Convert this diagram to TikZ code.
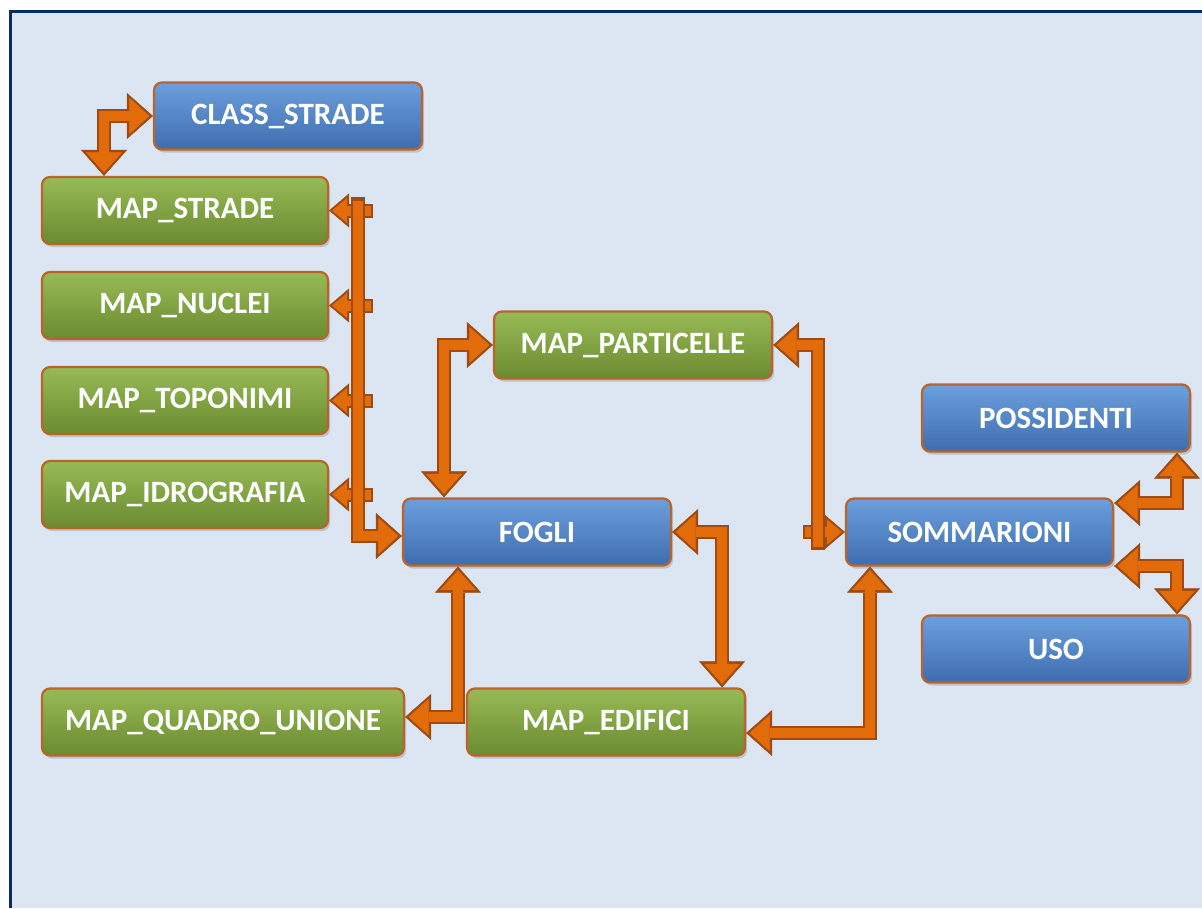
\documentclass[tikz,border=0pt]{standalone}
\usepackage{fontspec}
\setmainfont{Carlito}
\usetikzlibrary{arrows.meta,shadows,calc}
\definecolor{bgc}{HTML}{DCE6F2}
\definecolor{framec}{HTML}{0B2A6B}
\definecolor{edgec}{HTML}{B8642A}
\definecolor{blueT}{HTML}{6C9FDD}
\definecolor{blueB}{HTML}{3E6DAE}
\definecolor{greenT}{HTML}{98BA55}
\definecolor{greenB}{HTML}{6B8B30}
\definecolor{arrF}{HTML}{E36C0A}
\definecolor{arrO}{HTML}{9E4A12}
\tikzset{
  box/.style={rounded corners=8pt, draw=edgec, line width=2.2pt, minimum height=67pt,
    inner sep=0pt, text=white, font=\fontsize{31}{36}\selectfont\bfseries,
    drop shadow={shadow xshift=2pt, shadow yshift=-3pt, opacity=0.35}},
  bbox/.style={box, top color=blueT, bottom color=blueB},
  gbox/.style={box, top color=greenT, bottom color=greenB},
  aout/.style={draw=arrO, line width=14pt, line join=miter, line cap=butt,
    >={Triangle[width=46pt,length=26pt,line width=0.4pt]}},
  ain/.style={draw=arrF, line width=10pt, line join=miter, line cap=butt,
    shorten >=3.5pt, shorten <=3.5pt,
    >={Triangle[width=36pt,length=20pt,line width=0.4pt]}},
  sout/.style={aout, >={Triangle[width=34pt,length=20pt,line width=0.4pt]}},
  sin/.style={ain, shorten >=3pt, shorten <=2pt, >={Triangle[width=25pt,length=15pt,line width=0.4pt]}},
}
\newcommand\barrow[2][]{\draw[aout,#1] #2; \draw[ain,#1] #2;}
\newcommand\sarrow[2][]{\draw[sout,#1] #2; \draw[sin,#1] #2;}
\begin{document}
\begin{tikzpicture}[x=1pt,y=-1pt]
\useasboundingbox (0,0) rectangle (1202,908);
\fill[white] (0,0) rectangle (1202,908);
\fill[bgc] (10,11) rectangle (1202,908);
\draw[framec, line width=3pt] (10.5,908) -- (10.5,11.5) -- (1202,11.5);

\node[bbox, minimum width=268pt] (cls) at (288,116) {CLASS\_STRADE};
\node[gbox, minimum width=286pt] (ms) at (185,210.5) {MAP\_STRADE};
\node[gbox, minimum width=286pt] (mn) at (185,305.5) {MAP\_NUCLEI};
\node[gbox, minimum width=286pt] (mt) at (185,400.5) {MAP\_TOPONIMI};
\node[gbox, minimum width=286pt] (mi) at (185,494.5) {MAP\_IDROGRAFIA};
\node[gbox, minimum width=278pt] (mp) at (633,345) {MAP\_PARTICELLE};
\node[bbox, minimum width=268pt] (fogli) at (537,532) {FOGLI};
\node[bbox, minimum width=267pt] (somm) at (979.5,532) {SOMMARIONI};
\node[bbox, minimum width=268pt] (poss) at (1056,418) {POSSIDENTI};
\node[bbox, minimum width=268pt] (uso) at (1056,649) {USO};
\node[gbox, minimum width=362pt] (mqu) at (223,722) {MAP\_QUADRO\_UNIONE};
\node[gbox, minimum width=278pt] (med) at (606,722) {MAP\_EDIFICI};

\coordinate (bustop) at (358,197);
\coordinate (c4) at (818,550);
\coordinate (c4b) at (803,532);

% CLASS_STRADE <-> MAP_STRADE
\barrow[<->]{(cls.west) -| ($(ms.north)+(-81,0)$)}
% bus branches
\sarrow[->]{($(ms.east)+(44,0)$) -- (ms.east)}
\sarrow[->]{($(mn.east)+(44,0)$) -- (mn.east)}
\sarrow[->]{($(mt.east)+(44,0)$) -- (mt.east)}
\sarrow[->]{($(mi.east)+(44,0)$) -- (mi.east)}
% bus
\barrow[->]{(bustop) |- ($(fogli.west)+(0,4)$)}
% FOGLI <-> MAP_PARTICELLE
\barrow[<->]{(mp.west) -| ($(fogli.north)+(-93,0)$)}
% MAP_PARTICELLE <-> SOMMARIONI
\sarrow[->]{(c4b) -- (somm.west)}
\barrow[<-]{(mp.east) -| (c4)}
% FOGLI <-> MAP_EDIFICI
\barrow[<->]{(fogli.east) -| ($(med.north)+(116,0)$)}
% FOGLI <-> MAP_QUADRO_UNIONE
\barrow[<->]{($(fogli.south)+(-79,0)$) |- ($(mqu.east)+(0,-5)$)}
% SOMMARIONI <-> MAP_EDIFICI
\barrow[<->]{($(somm.south)+(-109.5,0)$) |- ($(med.east)+(0,11)$)}
% SOMMARIONI <-> POSSIDENTI
\barrow[<->]{($(poss.south)+(121,0)$) |- ($(somm.east)+(0,-29)$)}
% SOMMARIONI <-> USO
\barrow[<->]{($(somm.east)+(0,34)$) -| ($(uso.north)+(121,0)$)}
\end{tikzpicture}
\end{document}
